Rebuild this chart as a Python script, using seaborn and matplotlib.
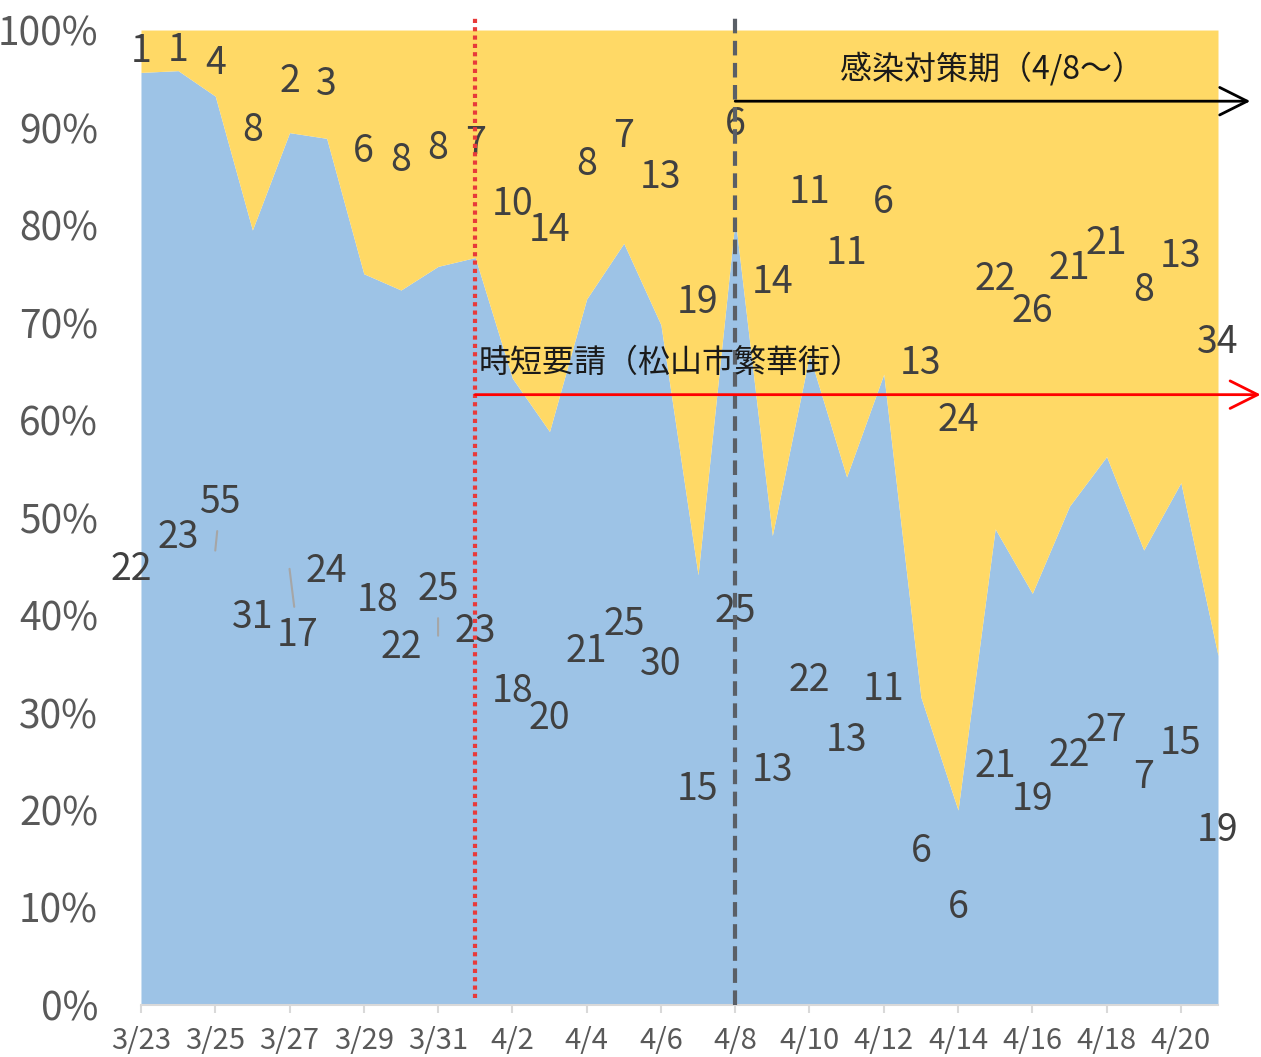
# 100% stacked area chart: daily counts split into two groups
import numpy as np
import pandas as pd
import matplotlib
matplotlib.use("Agg")
import matplotlib.pyplot as plt
import seaborn as sns

# dates 3/23 - 4/21
dates = [f"{d.month}/{d.day}" for d in pd.date_range("2021-03-23", "2021-04-21")]

# counts per day (blue = bottom series, yellow = top series)
blue_counts = [22, 23, 55, 31, 17, 24, 18, 22, 25, 23,
               18, 20, 21, 25, 30, 15, 25, 13, 22, 13,
               11, 6, 6, 21, 19, 22, 27, 7, 15, 19]
yellow_counts = [1, 1, 4, 8, 2, 3, 6, 8, 8, 7,
                 10, 14, 8, 7, 13, 19, 6, 14, 11, 11,
                 6, 13, 24, 22, 26, 21, 21, 8, 13, 34]

df = pd.DataFrame({"date": dates, "blue": blue_counts, "yellow": yellow_counts})
df["total"] = df["blue"] + df["yellow"]
df["blue_pct"] = df["blue"] / df["total"] * 100
df["yellow_pct"] = df["yellow"] / df["total"] * 100

sns.set_theme(style="white")
plt.rcParams["font.family"] = ["Noto Sans CJK JP", "DejaVu Sans"]

BLUE = "#9DC3E6"
YELLOW = "#FFD966"
LABEL = "#404040"
AXIS = "#595959"

fig, ax = plt.subplots(figsize=(12.61, 10.57), dpi=100)
fig.subplots_adjust(left=0.1118, right=0.9659, bottom=0.0492, top=0.9716)

x = np.arange(len(df))
ax.stackplot(x, df["blue_pct"], df["yellow_pct"], colors=[BLUE, YELLOW], linewidth=0)

# data labels in the middle of each band, a few of them dragged by hand
moved = {0: (-0.25, -3.2), 2: (0.13, 4.9), 4: (0.22, -6.8), 6: (0.38, 4.0), 8: (0.0, 4.7)}
leader = {2, 4, 8}
for i, row in df.iterrows():
    mid_b = row["blue_pct"] / 2
    mid_y = row["blue_pct"] + row["yellow_pct"] / 2
    dx, dy = moved.get(i, (0, 0))
    if i in leader:
        ax.annotate(str(row["blue"]), xy=(i, mid_b), xytext=(i + dx, mid_b + dy),
                    ha="center", va="center", fontsize=27, color=LABEL,
                    arrowprops=dict(arrowstyle="-", color="#a6a6a6", lw=1.5,
                                    shrinkA=4, shrinkB=0))
    else:
        ax.text(i + dx, mid_b + dy, str(row["blue"]), ha="center", va="center",
                fontsize=27, color=LABEL)
    ax.text(i, mid_y, str(row["yellow"]), ha="center", va="center",
            fontsize=27, color=LABEL)

# event markers
i_req = dates.index("4/1")
i_meas = dates.index("4/8")
ax.plot([i_req, i_req], [0.7, 101.5], color="#E83A3A", lw=3,
        ls=(0, (1, 1)), clip_on=False, zorder=5)
ax.plot([i_meas, i_meas], [0, 101.5], color="#5a5f66", lw=3,
        ls=(0, (3.5, 1.8)), clip_on=False, zorder=5)

ax.annotate("", xy=(30.15, 62.6), xytext=(i_req, 62.6), annotation_clip=False,
            arrowprops=dict(arrowstyle="->,head_length=0.9,head_width=0.45",
                            color="#FF0000", lw=2, mutation_scale=22,
                            shrinkA=0, shrinkB=0), zorder=6)
ax.text(i_req + 0.08, 65.9, "時短要請（松山市繁華街）", ha="left", va="center",
        fontsize=23, color="#1a1a1a", zorder=6)

ax.annotate("", xy=(29.87, 92.7), xytext=(i_meas, 92.7), annotation_clip=False,
            arrowprops=dict(arrowstyle="->,head_length=0.9,head_width=0.45",
                            color="#000000", lw=2, mutation_scale=22,
                            shrinkA=0, shrinkB=0), zorder=6)
ax.text(18.82, 96.1, "感染対策期（4/8～）", ha="left", va="center",
        fontsize=23, color="#1a1a1a", zorder=6)

# axes
ax.set_xlim(0, len(df) - 1)
ax.set_ylim(0, 100)
ax.set_xticks(x[::2])
ax.set_xticklabels(dates[::2], fontsize=21, color=AXIS)
ax.set_yticks(np.arange(0, 101, 10))
ax.set_yticklabels([f"{v}%" for v in range(0, 101, 10)], fontsize=28, color=AXIS)
ax.tick_params(axis="x", length=6, width=1.5, color="#d9d9d9", pad=9, bottom=True)
ax.tick_params(axis="y", length=0, pad=31)
for s in ["top", "right", "left"]:
    ax.spines[s].set_visible(False)
ax.spines["bottom"].set_color("#d9d9d9")
ax.spines["bottom"].set_linewidth(1.5)
ax.set_xlabel("")
ax.set_ylabel("")

fig.savefig("out.png", dpi=100)
